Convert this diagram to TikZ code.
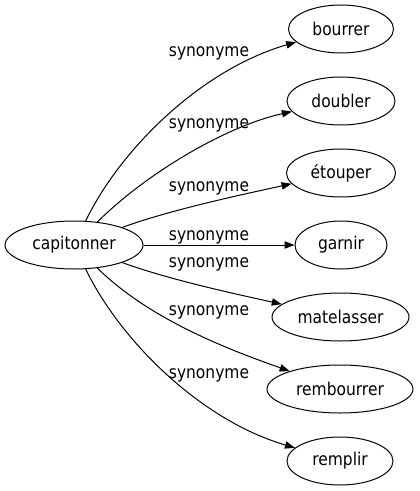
\documentclass[tikz,border=0pt]{standalone}
\usepackage{fontspec}
\setmainfont{DejaVu Sans}[FakeStretch=0.88]
\usetikzlibrary{shapes.geometric,arrows.meta}
\begin{document}
\begin{tikzpicture}[x=0.75pt,y=-0.75pt,
  word/.style={draw,ellipse,inner sep=0pt,minimum height=36pt,line width=0.75pt,font=\fontsize{13.2}{15}\selectfont},
  rel/.style={font=\fontsize{13.2}{15}\selectfont,anchor=base,inner sep=0pt},
  syn/.style={line width=0.75pt,-{Triangle[length=7.5pt,width=5.5pt]}}]
\useasboundingbox (0,0) rectangle (419,491);
\node[word,minimum width=103.5pt] (cap) at (74,245) {capitonner};
\node[word,minimum width=78.75pt] (n1) at (341,29) {bourrer};
\node[word,minimum width=81pt] (n2) at (341,101) {doubler};
\node[word,minimum width=81.75pt] (n3) at (341,173) {étouper};
\node[word,minimum width=69pt] (n4) at (341,245) {garnir};
\node[word,minimum width=102.75pt] (n5) at (340.5,317) {matelasser};
\node[word,minimum width=109.5pt] (n6) at (340,389) {rembourrer};
\node[word,minimum width=79.5pt] (n7) at (340,461) {remplir};
\node[rel] (l1) at (209,57) {synonyme};
\node[rel] (l2) at (209,129) {synonyme};
\node[rel] (l3) at (209,192) {synonyme};
\node[rel] (l4) at (209,240) {synonyme};
\node[rel] (l5) at (209,267) {synonyme};
\node[rel] (l6) at (209,315) {synonyme};
\node[rel] (l7) at (209,378) {synonyme};
\draw[syn] (cap) .. controls (120,150) and (200,70) .. (n1);
\draw[syn] (cap) .. controls (150,170) and (230,125) .. (n2);
\draw[syn] (cap) .. controls (170,210) and (240,195) .. (n3);
\draw[syn] (cap) -- (n4);
\draw[syn] (cap) .. controls (170,280) and (240,295) .. (n5);
\draw[syn] (cap) .. controls (150,320) and (230,350) .. (n6);
\draw[syn] (cap) .. controls (120,340) and (200,420) .. (n7);
\end{tikzpicture}
\end{document}
